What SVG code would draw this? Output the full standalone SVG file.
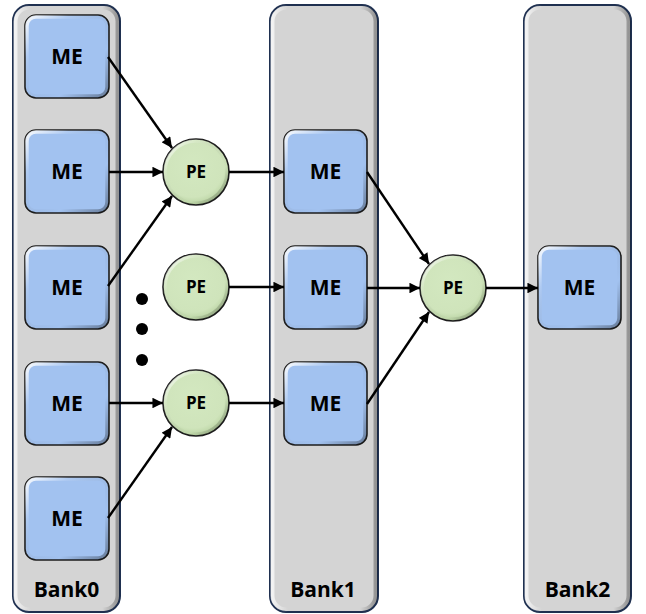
<svg xmlns="http://www.w3.org/2000/svg" width="646" height="614" viewBox="0 0 646 614">
<defs>
<linearGradient id="bevel" x1="0" y1="0" x2="1" y2="1">
<stop offset="0" stop-color="#ffffff" stop-opacity="0.9"/>
<stop offset="0.25" stop-color="#ffffff" stop-opacity="0.15"/>
<stop offset="0.7" stop-color="#000000" stop-opacity="0"/>
<stop offset="1" stop-color="#000000" stop-opacity="0.35"/>
</linearGradient>
<linearGradient id="bankBevel" x1="0" y1="0" x2="1" y2="0">
<stop offset="0" stop-color="#ffffff" stop-opacity="0.7"/>
<stop offset="0.15" stop-color="#ffffff" stop-opacity="0"/>
<stop offset="0.85" stop-color="#000000" stop-opacity="0"/>
<stop offset="1" stop-color="#000000" stop-opacity="0.3"/>
</linearGradient>
<radialGradient id="peGrad" cx="0.45" cy="0.4" r="0.6">
<stop offset="0" stop-color="#d3e8c0"/>
<stop offset="0.8" stop-color="#cfe4bb"/>
<stop offset="1" stop-color="#b9d3a2"/>
</radialGradient>
<marker id="arr" viewBox="0 0 10 10" refX="10" refY="5" markerWidth="4.8" markerHeight="4.4" orient="auto" markerUnits="strokeWidth">
<path d="M0,0 L10,5 L0,10 z" fill="#000"/>
</marker>
<style>
.bank{fill:#d4d4d4;stroke:#1f3050;stroke-width:2}
.bankhl{fill:none;stroke:url(#bankBevel);stroke-width:4}
.me{fill:#a2c2f0;stroke:#1c1c1c;stroke-width:1.6}
.mehl{fill:none;stroke:url(#bevel);stroke-width:3.5}
.pe{fill:url(#peGrad);stroke:#1c1c1c;stroke-width:1.6}
.pehl{fill:none;stroke:url(#bevel);stroke-width:3.5}
.t{font-family:"Open Sans","Liberation Sans",Arial,sans-serif;font-weight:bold;fill:#000;text-anchor:middle}
.met{font-size:21px}
.pet{font-size:17px}
.bt{font-size:21px}
.c{stroke:#000;stroke-width:2.4;fill:none;marker-end:url(#arr)}
</style>
</defs>
<rect width="646" height="614" fill="#ffffff"/>
<g id="bank0">
<rect class="bank" x="13" y="5" width="107" height="607" rx="16"/>
<rect class="bankhl" x="15.5" y="7.5" width="102" height="602" rx="14"/>
<text class="t bt" x="66.5" y="597">Bank0</text>
</g>
<g id="bank1">
<rect class="bank" x="270" y="5" width="108" height="607" rx="16"/>
<rect class="bankhl" x="272.5" y="7.5" width="103" height="602" rx="14"/>
<text class="t bt" x="323" y="597">Bank1</text>
</g>
<g id="bank2">
<rect class="bank" x="524" y="5" width="107" height="607" rx="16"/>
<rect class="bankhl" x="526.5" y="7.5" width="102" height="602" rx="14"/>
<text class="t bt" x="577.5" y="597">Bank2</text>
</g>
<g id="me0_0"><rect class="me" x="25" y="15" width="84" height="83" rx="11"/><rect class="mehl" x="27" y="17" width="80" height="79" rx="9"/><text class="t met" x="67" y="64">ME</text></g>
<g id="me0_1"><rect class="me" x="25" y="130" width="84" height="83" rx="11"/><rect class="mehl" x="27" y="132" width="80" height="79" rx="9"/><text class="t met" x="67" y="179">ME</text></g>
<g id="me0_2"><rect class="me" x="25" y="246" width="84" height="83" rx="11"/><rect class="mehl" x="27" y="248" width="80" height="79" rx="9"/><text class="t met" x="67" y="295">ME</text></g>
<g id="me0_3"><rect class="me" x="25" y="362" width="84" height="83" rx="11"/><rect class="mehl" x="27" y="364" width="80" height="79" rx="9"/><text class="t met" x="67" y="411">ME</text></g>
<g id="me0_4"><rect class="me" x="25" y="477" width="84" height="83" rx="11"/><rect class="mehl" x="27" y="479" width="80" height="79" rx="9"/><text class="t met" x="67" y="526">ME</text></g>
<g id="me1_0"><rect class="me" x="284" y="130" width="83" height="83" rx="11"/><rect class="mehl" x="286" y="132" width="79" height="79" rx="9"/><text class="t met" x="325.5" y="179">ME</text></g>
<g id="me1_1"><rect class="me" x="284" y="246" width="83" height="83" rx="11"/><rect class="mehl" x="286" y="248" width="79" height="79" rx="9"/><text class="t met" x="325.5" y="295">ME</text></g>
<g id="me1_2"><rect class="me" x="284" y="362" width="83" height="83" rx="11"/><rect class="mehl" x="286" y="364" width="79" height="79" rx="9"/><text class="t met" x="325.5" y="411">ME</text></g>
<g id="me2_0"><rect class="me" x="538" y="246" width="83" height="83" rx="11"/><rect class="mehl" x="540" y="248" width="79" height="79" rx="9"/><text class="t met" x="579.5" y="295">ME</text></g>
<g id="pe1"><circle class="pe" cx="196" cy="172" r="33"/><circle class="pehl" cx="196" cy="172" r="31"/><text class="t pet" x="196" y="178">PE</text></g>
<g id="pe2"><circle class="pe" cx="196" cy="287" r="33"/><circle class="pehl" cx="196" cy="287" r="31"/><text class="t pet" x="196" y="293">PE</text></g>
<g id="pe3"><circle class="pe" cx="196" cy="403" r="33"/><circle class="pehl" cx="196" cy="403" r="31"/><text class="t pet" x="196" y="409">PE</text></g>
<g id="pe4"><circle class="pe" cx="453" cy="288" r="33"/><circle class="pehl" cx="453" cy="288" r="31"/><text class="t pet" x="453" y="294">PE</text></g>
<g id="dots" fill="#000">
<circle cx="142" cy="299" r="6"/>
<circle cx="142" cy="329" r="6"/>
<circle cx="142" cy="360" r="6"/>
</g>
<g id="connectors">
<line class="c" x1="108" y1="57" x2="172" y2="148"/>
<line class="c" x1="109" y1="172" x2="163" y2="172"/>
<line class="c" x1="108" y1="286" x2="172" y2="196"/>
<line class="c" x1="229" y1="172" x2="284" y2="172"/>
<line class="c" x1="229" y1="287" x2="284" y2="287"/>
<line class="c" x1="109" y1="403" x2="163" y2="403"/>
<line class="c" x1="229" y1="403" x2="284" y2="403"/>
<line class="c" x1="108" y1="518" x2="172" y2="427"/>
<line class="c" x1="367" y1="172" x2="429" y2="264"/>
<line class="c" x1="367" y1="288" x2="420" y2="288"/>
<line class="c" x1="367" y1="404" x2="429" y2="312"/>
<line class="c" x1="486" y1="288" x2="538" y2="288"/>
</g>
</svg>
